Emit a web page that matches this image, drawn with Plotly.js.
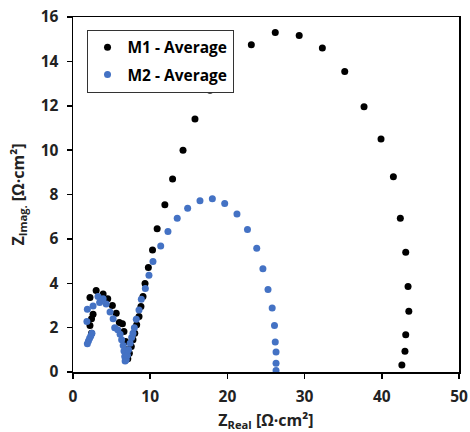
<!DOCTYPE html>
<html>
<head>
<meta charset="utf-8">
<script src="https://cdn.plot.ly/plotly-3.0.1.min.js"></script>
<style>html,body{margin:0;padding:0;background:#fff;}#chart{width:470px;height:432px;}</style>
</head>
<body>
<div id="chart"></div>
<script>
const seriesNames = ["M1 - Average", "M2 - Average"];
const m1Real = [2.4,2.2,2.4,2.6,2.2,3.0,3.9,4.5,5.1,5.6,6.0,6.4,6.6,6.8,6.9,7.0,7.1,7.3,7.55,7.77,8.0,8.25,8.55,8.8,9.07,9.33,9.76,10.3,10.9,11.9,12.9,14.25,15.8,17.75,20.3,23.1,26.2,29.3,32.3,35.2,37.7,39.9,41.5,42.4,43.1,43.4,43.5,43.1,43.0,42.6];
const m1Imag = [1.75,2.1,2.4,2.6,3.36,3.67,3.52,3.3,3.0,2.65,2.23,2.17,1.83,1.38,1.0,0.7,0.6,0.85,1.15,1.45,1.75,2.13,2.5,2.95,3.4,3.99,4.71,5.5,6.46,7.54,8.7,10.0,11.4,12.7,13.8,14.75,15.3,15.17,14.6,13.54,11.95,10.5,8.8,6.93,5.4,3.85,2.74,1.68,0.93,0.31];
const m2Real = [1.86,2.0,2.15,2.3,2.45,1.8,1.86,2.6,3.24,3.45,3.9,4.3,4.8,5.2,5.4,5.8,6.1,6.3,6.5,6.6,6.7,6.75,6.9,7.05,7.2,7.4,7.6,7.77,7.95,8.2,8.55,8.85,9.37,9.84,10.36,11.36,12.3,13.5,14.85,16.45,18.05,19.65,21.24,22.6,23.8,24.6,25.26,25.8,26.1,26.2,26.3,26.3,26.3];
const m2Imag = [1.27,1.4,1.52,1.62,1.75,2.28,2.83,2.98,3.4,3.13,3.3,3.07,2.7,2.4,2.0,1.9,1.7,1.45,1.2,0.95,0.7,0.5,0.55,0.75,1.0,1.3,1.55,1.75,2.0,2.38,2.8,3.28,3.76,4.36,4.98,5.68,6.33,6.93,7.38,7.72,7.81,7.59,7.12,6.42,5.58,4.65,3.72,2.88,2.1,1.35,0.9,0.39,0.07];
const xTicks = [0,10,20,30,40,50];
const yTicks = [0,2,4,6,8,10,12,14,16];

const fontFam = "'Open Sans', 'DejaVu Sans', sans-serif";
const traces = [
  {x: m1Real, y: m1Imag, name: seriesNames[0], legendgroup: 'g1', type: 'scatter', mode: 'markers',
   marker: {color: '#000000', size: 7}},
  {x: m2Real, y: m2Imag, name: seriesNames[1], legendgroup: 'g2', type: 'scatter', mode: 'markers',
   marker: {color: '#4472C4', size: 7}}
];
const axisCommon = {
  showgrid: false, zeroline: false, showline: true, linecolor: '#000', linewidth: 1.5,
  mirror: true, ticks: 'outside', ticklen: 5, tickwidth: 1.5, tickcolor: '#000',
  ticklabelstandoff: 5,
  tickfont: {family: fontFam, size: 15.5, color: '#222', weight: 'bold'}
};
const layout = {
  width: 470, height: 432,
  margin: {l: 73, r: 11, t: 17, b: 60},
  paper_bgcolor: '#fff', plot_bgcolor: '#fff',
  showlegend: true,
  legend: {x: 0.035, y: 0.964, xanchor: 'left', yanchor: 'top',
    traceorder: 'grouped', tracegroupgap: 4,
    bgcolor: '#fff', bordercolor: '#333', borderwidth: 1,
    font: {family: fontFam, size: 15.5, color: '#000', weight: 'bold'}},
  xaxis: Object.assign({}, axisCommon, {range: [0, 50], tickvals: xTicks,
    title: {text: 'Z<sub>Real</sub> [Ω·cm²]', standoff: 12,
      font: {family: fontFam, size: 16, color: '#222', weight: 'bold'}}}),
  yaxis: Object.assign({}, axisCommon, {range: [0, 16], tickvals: yTicks,
    title: {text: 'Z<sub>Imag.</sub> [Ω·cm²]', standoff: 12,
      font: {family: fontFam, size: 16, color: '#222', weight: 'bold'}}})
};
Plotly.newPlot('chart', traces, layout, {displayModeBar: false, staticPlot: true});
</script>
</body>
</html>
